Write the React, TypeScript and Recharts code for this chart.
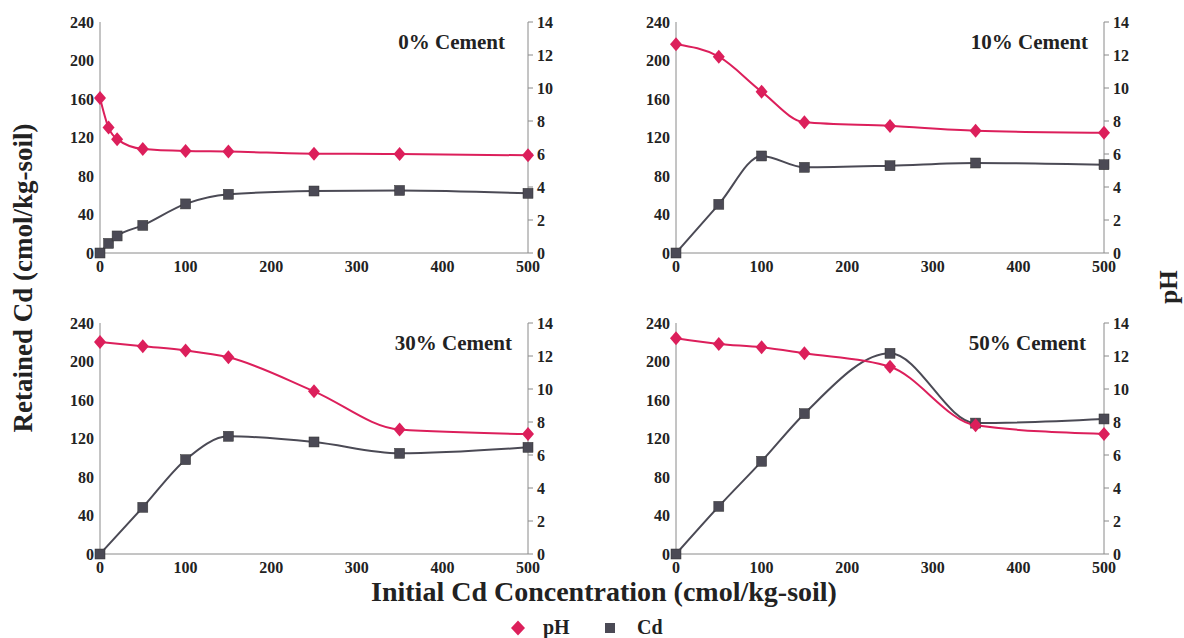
import React from 'react';
import { LineChart, Line, XAxis, YAxis } from 'recharts';

// ---- data ----
const conc0 = [0, 10, 20, 50, 100, 150, 250, 350, 500];
const conc = [0, 50, 100, 150, 250, 350, 500];

const ph0 = [9.4, 7.6, 6.9, 6.3, 6.18, 6.15, 6.02, 6.0, 5.92];
const cd0 = [0, 10, 17.7, 28.7, 51, 61, 64.4, 65, 62];

const ph10 = [12.65, 11.9, 9.78, 7.92, 7.7, 7.41, 7.29];
const cd10 = [0, 50.6, 100.8, 89, 90.7, 93.5, 91.7];

const ph30 = [12.85, 12.59, 12.34, 11.92, 9.86, 7.54, 7.27];
const cd30 = [0, 48.5, 98, 122.3, 116.4, 104.6, 110.8];

const ph50 = [13.07, 12.73, 12.53, 12.16, 11.35, 7.8, 7.27];
const cd50 = [0, 49.5, 96.3, 145.8, 208.5, 136, 140.3];

const xTicks = [0, 100, 200, 300, 400, 500];
const leftTicks = [0, 40, 80, 120, 160, 200, 240];
const rightTicks = [0, 2, 4, 6, 8, 10, 12, 14];
const panelTitles = ['0% Cement', '10% Cement', '30% Cement', '50% Cement'];

const PH_COLOR = '#dc1f5b';
const CD_COLOR = '#4b4a55';
const FRAME = '#8a8a8a';
const FONT = '"Liberation Serif", "Times New Roman", serif';
const TICK_FS = 16;

const makeTick = (anchor: 'start' | 'middle' | 'end', dy: string) => (props: any) => {
  const { x, y, payload } = props;
  return (
    <text
      x={x}
      y={y}
      dy={dy}
      textAnchor={anchor}
      fontFamily={FONT}
      fontWeight={700}
      fontSize={TICK_FS}
      fill="#222"
    >
      {payload.value}
    </text>
  );
};
const BottomTick = makeTick('middle', '0.72em');
const LeftTick = makeTick('end', '0.36em');
const RightTick = makeTick('start', '0.36em');

const Diamond = (props: any) => {
  const { cx, cy } = props;
  if (cx == null || cy == null) return null;
  const r = 7;
  return <path d={`M${cx},${cy - r}L${cx + r - 1},${cy}L${cx},${cy + r}L${cx - r + 1},${cy}Z`} fill={PH_COLOR} />;
};
const Square = (props: any) => {
  const { cx, cy } = props;
  if (cx == null || cy == null) return null;
  const s = 5;
  return <rect x={cx - s} y={cy - s} width={2 * s} height={2 * s} fill={CD_COLOR} stroke="#333" strokeWidth={0.5} />;
};

function buildRows(xs: number[], ph: number[], cd: number[]) {
  return xs.map((x, i) => ({ x, ph: ph[i], cd: cd[i] }));
}

const panels = [
  { rows: buildRows(conc0, ph0, cd0), left: 40, top: 0, titleX: 465, titleY: 44 },
  { rows: buildRows(conc, ph10, cd10), left: 616, top: 0, titleX: 472, titleY: 44 },
  { rows: buildRows(conc, ph30, cd30), left: 40, top: 301, titleX: 472, titleY: 44 },
  { rows: buildRows(conc, ph50, cd50), left: 616, top: 301, titleX: 470, titleY: 44 },
];

function Panel({ rows, left, top, title, titleX, titleY }: any) {
  return (
    <div style={{ position: 'absolute', left, top }}>
      <LineChart width={543} height={283} data={rows} margin={{ top: 22, right: 0, left: 0, bottom: 0 }}>
        <XAxis
          xAxisId="b"
          dataKey="x"
          type="number"
          domain={[0, 500]}
          ticks={xTicks}
          tick={<BottomTick />}
          tickLine={false}
          tickSize={4}
          tickMargin={3}
          height={30}
          axisLine={{ stroke: FRAME }}
        />
        <XAxis
          xAxisId="bm"
          dataKey="x"
          type="number"
          orientation="bottom"
          mirror
          domain={[0, 500]}
          ticks={xTicks}
          tick={false}
          tickSize={4}
          height={0}
          axisLine={false}
          tickLine={{ stroke: FRAME }}
        />
        <XAxis
          xAxisId="t"
          dataKey="x"
          type="number"
          orientation="top"
          mirror
          domain={[0, 500]}
          ticks={xTicks}
          tick={false}
          tickSize={4}
          height={0}
          axisLine={{ stroke: FRAME }}
          tickLine={{ stroke: FRAME }}
        />
        <YAxis
          yAxisId="l"
          type="number"
          domain={[0, 240]}
          ticks={leftTicks}
          tick={<LeftTick />}
          tickLine={false}
          tickSize={4}
          tickMargin={2}
          width={60}
          axisLine={{ stroke: FRAME }}
        />
        <YAxis
          yAxisId="lm"
          type="number"
          mirror
          domain={[0, 240]}
          ticks={leftTicks}
          tick={false}
          tickSize={4}
          width={0}
          axisLine={false}
          tickLine={{ stroke: FRAME }}
        />
        <YAxis
          yAxisId="r"
          orientation="right"
          type="number"
          domain={[0, 14]}
          ticks={rightTicks}
          tick={<RightTick />}
          tickSize={5}
          tickMargin={4}
          width={55}
          axisLine={{ stroke: FRAME }}
          tickLine={{ stroke: FRAME }}
        />
        <Line
          xAxisId="b"
          yAxisId="l"
          dataKey="cd"
          type="monotone"
          stroke={CD_COLOR}
          strokeWidth={2}
          dot={<Square />}
          activeDot={false}
          isAnimationActive={false}
        />
        <Line
          xAxisId="b"
          yAxisId="r"
          dataKey="ph"
          type="monotone"
          stroke={PH_COLOR}
          strokeWidth={2}
          dot={<Diamond />}
          activeDot={false}
          isAnimationActive={false}
        />
        <text
          x={titleX}
          y={titleY}
          textAnchor="end"
          dominantBaseline="middle"
          style={{ fontFamily: FONT, fontWeight: 700, fontSize: 21, fill: '#222' }}
        >
          {title}
        </text>
      </LineChart>
    </div>
  );
}

export default function App() {
  return (
    <div style={{ position: 'absolute', left: 0, top: 0, width: 1184, height: 638, background: '#fff', overflow: 'hidden' }}>
      {panels.map((p, i) => (
        <Panel key={i} {...p} title={panelTitles[i]} />
      ))}
      <svg width={1184} height={638} style={{ position: 'absolute', left: 0, top: 0, pointerEvents: 'none' }}>
        <text
          x={0}
          y={0}
          transform="translate(32,278) rotate(-90)"
          textAnchor="middle"
          style={{ fontFamily: FONT, fontWeight: 700, fontSize: 27, fill: '#222' }}
        >
          Retained Cd (cmol/kg-soil)
        </text>
        <text
          x={0}
          y={0}
          transform="translate(1177,287) rotate(-90)"
          textAnchor="middle"
          style={{ fontFamily: FONT, fontWeight: 700, fontSize: 25, fill: '#222' }}
        >
          pH
        </text>
        <text
          x={604}
          y={601}
          textAnchor="middle"
          style={{ fontFamily: FONT, fontWeight: 700, fontSize: 28, fill: '#222' }}
        >
          Initial Cd Concentration (cmol/kg-soil)
        </text>
        <path d="M518,620.5L525,628L518,635.5L511,628Z" fill={PH_COLOR} />
        <text x={543} y={634} style={{ fontFamily: FONT, fontWeight: 700, fontSize: 20, fill: '#222' }}>
          pH
        </text>
        <rect x={605} y={623} width={10} height={10} fill={CD_COLOR} />
        <text x={637} y={634} style={{ fontFamily: FONT, fontWeight: 700, fontSize: 20, fill: '#222' }}>
          Cd
        </text>
      </svg>
    </div>
  );
}
